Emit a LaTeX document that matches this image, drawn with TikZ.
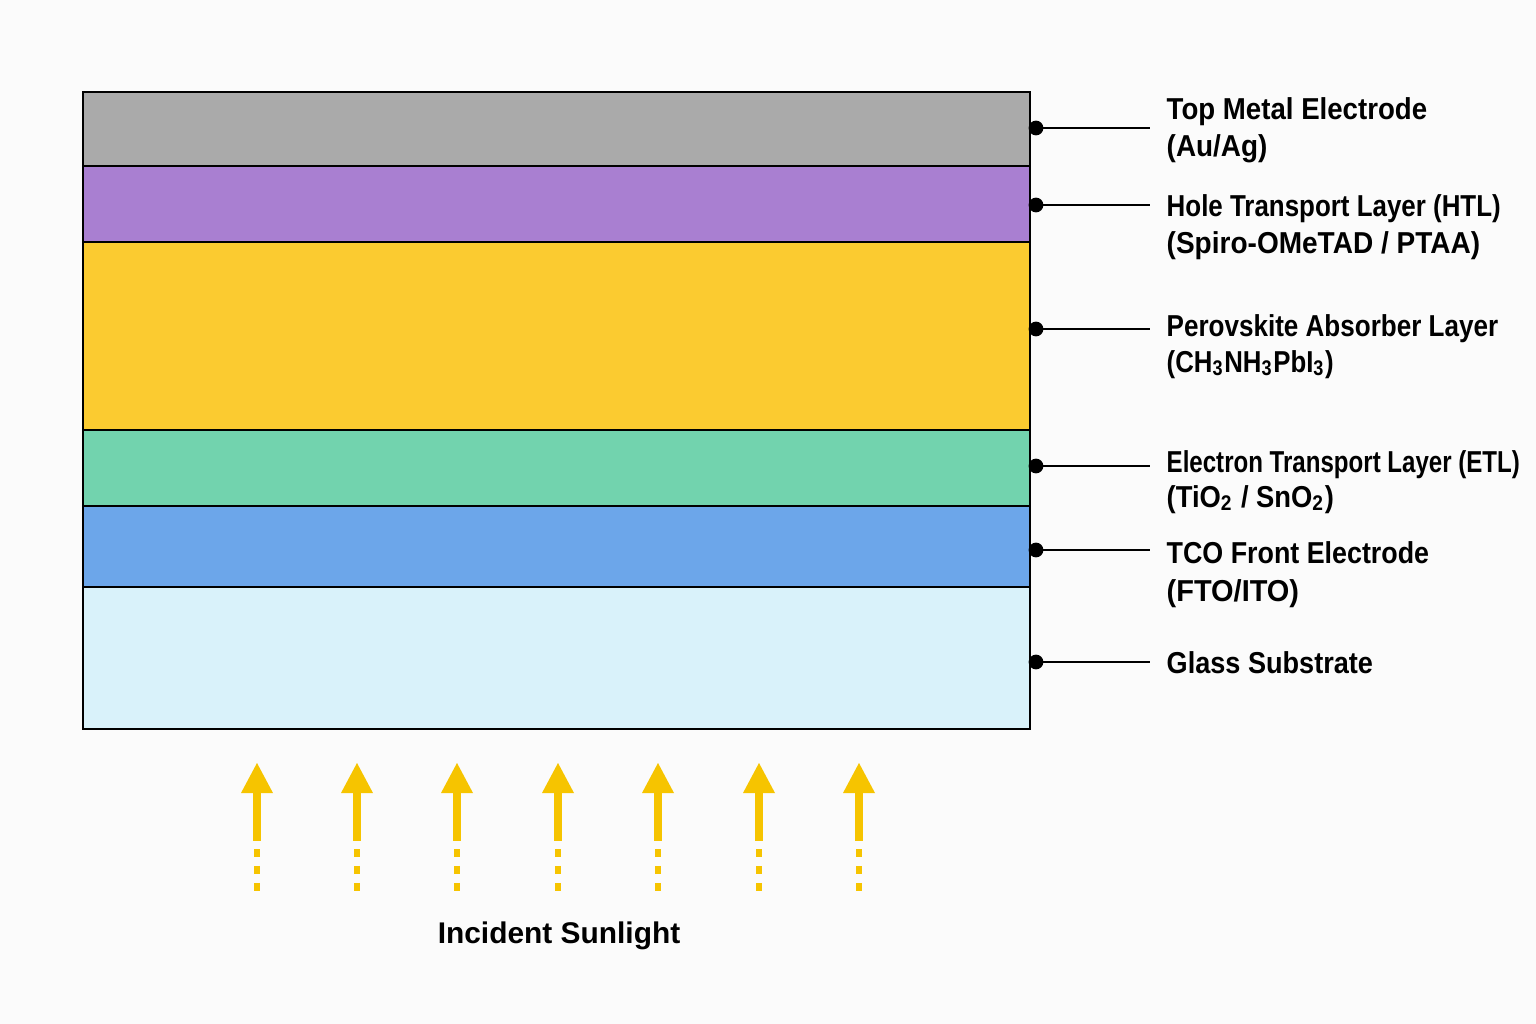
\documentclass[tikz,border=0pt]{standalone}
\usepackage{graphicx}
\usepackage{fontspec}
\setmainfont{Liberation Sans}
\newfontfamily\labfont{Liberation Sans}[FakeStretch=0.87]
\newcommand\hsq[2]{\scalebox{#1}[1]{#2}}
\definecolor{bgc}{HTML}{FBFBFB}
\definecolor{topc}{HTML}{AAAAAA}
\definecolor{htlc}{HTML}{A97FD1}
\definecolor{perc}{HTML}{FBCB30}
\definecolor{etlc}{HTML}{72D3AE}
\definecolor{tcoc}{HTML}{6CA6EA}
\definecolor{glac}{HTML}{D9F2FA}
\definecolor{sunc}{HTML}{F6C400}
\begin{document}
\begin{tikzpicture}[x=0.01cm,y=-0.01cm,
  layerbox/.style={draw=black,line width=0.6pt},
  lab/.style={anchor=base west,inner sep=0pt,font=\labfont\bfseries\fontsize{8.6}{10}\selectfont},
  lead/.style={line width=0.7pt},
  dotst/.style={circle,fill=black,inner sep=0pt,minimum size=4.2pt},
  sunhead/.style={fill=sunc},
  sunshaft/.style={draw=sunc,line width=2pt},
  sundash/.style={draw=sunc,line width=1.7pt,dash pattern=on 2.3pt off 2.5pt}]
\fill[bgc] (0,0) rectangle (1536,1024);
\path[use as bounding box] (0,0) rectangle (1536,1024);

% layers
\filldraw[layerbox,fill=topc] (83,92) rectangle (1030,166);
\filldraw[layerbox,fill=htlc] (83,166) rectangle (1030,242);
\filldraw[layerbox,fill=perc] (83,242) rectangle (1030,430);
\filldraw[layerbox,fill=etlc] (83,430) rectangle (1030,506);
\filldraw[layerbox,fill=tcoc] (83,506) rectangle (1030,587);
\filldraw[layerbox,fill=glac] (83,587) rectangle (1030,729);

% leaders
\foreach \i/\yy in {1/128,2/205,3/329,4/466,5/550,6/662}{
  \node[dotst] (d\i) at (1036,\yy) {};
  \coordinate (e\i) at (1150,\yy);
  \draw[lead] (d\i.center) -- (e\i);
}

% labels
\node[lab] (t1a) at (1166,119) {\hsq{1.05}{Top Metal Electrode}};
\node[lab] (t1b) at (1166,156) {\hsq{1.06}{(Au/Ag)}};
\node[lab] (t2a) at (1166,216) {\hsq{0.985}{Hole Transport Layer (HTL)}};
\node[lab] (t2b) at (1166,253) {\hsq{1.065}{(Spiro-OMeTAD / PTAA)}};
\node[lab] (t3a) at (1166,336) {\hsq{0.99}{Perovskite Absorber Layer}};
\node[lab] (t3b) at (1166,372) {\hsq{0.98}{(CH\textsubscript{3}NH\textsubscript{3}PbI\textsubscript{3})}};
\node[lab] (t4a) at (1166,472) {\hsq{0.915}{Electron Transport Layer (ETL)}};
\node[lab] (t4b) at (1166,507) {\hsq{1.04}{(TiO\textsubscript{2} / SnO\textsubscript{2})}};
\node[lab] (t5a) at (1166,563) {\hsq{1.02}{TCO Front Electrode}};
\node[lab] (t5b) at (1166,601) {\hsq{1.1}{(FTO/ITO)}};
\node[lab] (t6a) at (1166,673) {\hsq{1.03}{Glass Substrate}};

% sunlight arrows
\foreach \xx in {257,357,457,558,658,759,859}{
  \fill[sunhead] (\xx-16,793) -- (\xx,763) -- (\xx+16,793) -- cycle;
  \draw[sunshaft] (\xx,792) -- (\xx,841);
  \draw[sundash] (\xx,849) -- (\xx,891);
}
\node[anchor=base,inner sep=0pt,font=\bfseries\fontsize{8.5}{10}\selectfont] (sun) at (559,943) {Incident Sunlight};
\end{tikzpicture}
\end{document}
